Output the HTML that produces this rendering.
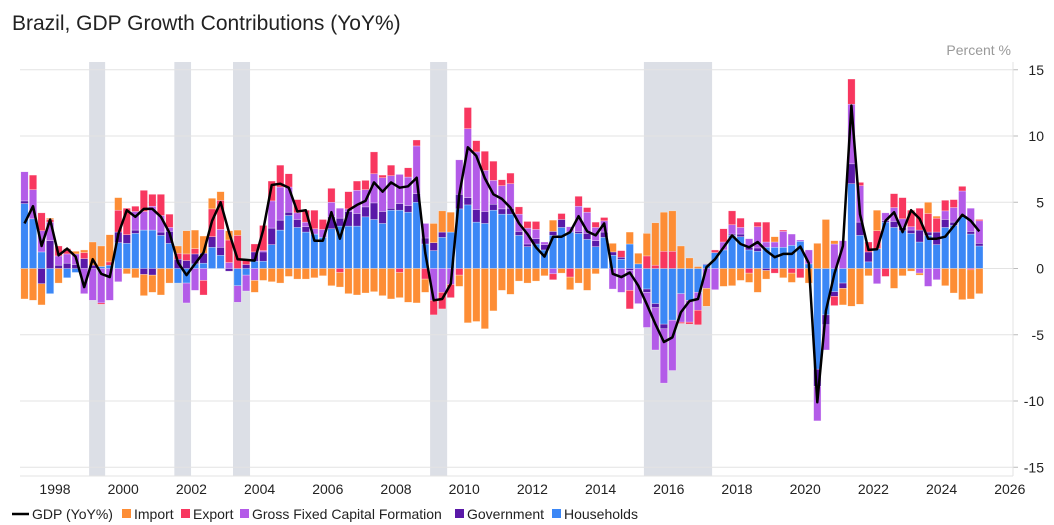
<!DOCTYPE html>
<html><head><meta charset="utf-8"><style>
body{margin:0;background:#fff;font-family:"Liberation Sans",Arial,sans-serif}
svg{display:block}
</style></head><body>
<svg id="chart" width="1054" height="525" viewBox="0 0 1054 525">
<text x="12" y="30" font-size="21" fill="#222">Brazil, GDP Growth Contributions (YoY%)</text>
<text x="1011" y="55" font-size="14" fill="#999" text-anchor="end">Percent %</text>
<g id="shade"></g>
<g id="grid"></g>
<g id="bars"></g>
<g id="line"></g>
<g id="axes"></g>
<g id="legend"></g>
</svg>
<script>
const startYear = 1997;
const households = [4.9,3.75,1.25,-1.9,0,-0.7,-0.3,0,0,0.15,0.25,1.95,1.9,2.65,2.9,2.9,2.5,1.9,-1.1,-1.1,
0.35,0.4,1.6,1.0,0,-1.3,-0.5,0.55,0.55,1.8,2.9,4.0,3.1,2.75,2.6,2.35,3.0,3.2,3.2,3.2,
3.9,3.7,3.4,4.4,4.4,4.25,5.0,1.85,1.35,2.35,2.75,4.5,4.8,3.5,3.4,4.4,4.1,4.1,2.5,1.65,
1.85,1.4,2.5,3.1,2.75,2.65,2.2,1.65,2.35,1.0,0.7,1.85,0.35,-1.55,-2.65,-4.2,-3.9,-1.9,-2.4,-1.8,
0.3,1.2,1.4,2.5,2.4,1.4,1.3,1.6,1.6,1.6,1.75,2.05,0.35,-7.6,-3.5,-1.75,-1.1,6.4,2.5,0.5,
1.5,3.5,3.1,2.85,2.65,2.0,2.5,1.8,3.1,3.25,3.9,2.6,1.7];
const government = [0.2,0,-1.15,2.1,0.25,0.4,0.3,0.75,0.25,0,0,0.8,0.65,0.25,-0.45,-0.5,0.25,0.9,0.7,0.6,
0.75,0.75,0.8,0.6,-0.2,0,0.3,0.7,0.7,1.25,0.75,0.25,0.6,0.4,0,0,0.9,0.6,1.1,0.95,
0.75,1.25,0.9,0.15,0.5,0.5,0.65,0.45,0.6,0.4,0,1.1,0.55,0.95,0.9,0.45,0.4,0.45,0.3,0.2,
0.4,0.4,0.3,0.6,0,0.15,0.45,0.45,0.4,0.25,0.15,-0.15,0,-0.25,-0.3,-0.35,0,0,0,0,
0.05,0,0,0.1,0.2,0.2,0.25,-0.15,0,0,0,0,0,-1.3,-0.75,-0.35,-0.4,1.5,1.0,0.75,
0,0.1,0.45,0.25,0.25,0.9,0.25,0.95,0.6,0.25,0,0.2,0.2];
const gfcf = [2.2,2.2,1.6,1.4,0.7,0.7,0.8,-1.9,-2.4,-2.6,-2.4,-1.0,0,1.4,1.4,1.8,1.25,0.3,0,-1.5,
-1.65,-0.9,0,1.35,0.45,-1.25,-1.2,-0.9,0.1,2.05,2.5,1.9,0.5,0.35,0.4,0.6,1.1,0.75,0.2,1.75,
1.3,2.2,2.55,2.45,2.2,2.15,3.6,1.1,-2.4,-1.8,-1.2,2.6,5.2,4.35,3.1,1.8,1.75,1.85,1.3,1.2,
0.7,0.2,-0.4,0,0.4,1.9,1.6,1.0,0.85,-1.55,-1.8,-1.5,-2.65,-2.65,-3.2,-4.1,-3.8,-2.15,-1.65,-1.35,
-1.5,-1.6,0.6,0.7,0.5,0.65,1.6,0.4,0.4,1.2,0.85,0.1,1.05,-2.6,-1.9,1.85,2.1,4.5,2.75,0,
-1.15,0.6,1.05,0.65,0.25,-0.35,-1.35,-0.85,0.65,1.1,1.95,1.75,1.7];
const exportsC = [0,1.1,1.35,0.2,0.75,0.4,0,0.45,0,-0.1,0.25,1.65,2.0,0.4,1.6,0.9,1.6,1.0,0.45,0.5,
0.4,-1.1,2.1,2.2,1.7,2.5,0.4,0.6,1.9,1.5,1.65,1.0,1.0,0.9,1.4,0.75,1.05,-0.3,1.3,0.7,
0.7,1.65,0.2,0.8,-0.3,0.7,0.45,-0.8,-1.1,-1.25,-1.0,-0.5,1.6,0.85,1.45,1.45,0.45,0.8,0.55,0.5,
0.6,0,-0.45,0.45,-0.65,0.75,0.35,0.4,0.25,0,0.5,-1.4,0,0.95,0.25,1.3,1.3,-0.1,-0.15,-1.1,
0,0.2,1.0,1.05,0.7,-0.35,0.35,1.5,-0.35,0.1,-0.35,-0.7,0,0,0,-0.7,0,1.9,0.25,0.75,
1.35,-0.6,1.05,1.6,1.25,1.65,1.4,1.05,0.8,0.6,0.35,-0.1,0.1];
const imports = [-2.3,-2.4,-1.6,0.1,-1.1,0,0.2,0.2,1.75,1.55,2.05,0.95,-0.4,-0.7,-1.6,-1.3,-2.0,-1.1,0.55,1.75,
1.4,1.3,0.8,0.65,0.7,0.4,0,-0.9,-0.9,-1.0,-1.1,-0.6,-0.8,-0.8,-0.7,-0.55,-1.3,-1.1,-1.9,-2.0,
-1.85,-1.75,-2.05,-2.3,-1.9,-2.55,-2.6,-1.0,1.45,1.6,1.5,-0.85,-4.1,-4.0,-4.55,-3.2,-1.65,-1.95,-0.95,-1.1,
-0.95,-0.55,0.85,-0.35,-0.95,-1.1,-1.65,-0.4,0,0.65,0,0.9,0.8,1.7,3.2,2.95,3.05,1.7,0.8,0.15,
-1.35,0,-1.35,-1.3,-0.9,-0.7,-1.8,-0.65,0.4,-0.7,-0.7,0,-1.1,1.9,3.7,0.25,-1.25,-2.85,-2.7,-0.55,
1.55,0,-1.5,-0.55,-0.2,-0.15,0.85,0.15,-1.3,-1.85,-2.35,-2.2,-1.9];
const gdp = [3.4,4.7,1.7,3.7,1.0,1.5,0.9,-1.4,0.7,-0.4,-0.65,2.6,4.4,3.9,4.5,4.5,3.9,2.7,0.45,-0.5,
0.35,1.2,3.6,5.0,2.7,0.7,0.65,0.6,2.9,6.3,6.4,6.1,4.3,4.4,2.1,2.1,4.25,2.25,4.4,4.8,
5.1,6.5,5.8,6.5,6.1,6.2,6.85,1.2,-2.4,-2.3,-1.15,5.6,9.15,8.5,6.8,5.6,5.25,4.6,3.4,2.6,
1.6,0.9,2.4,2.4,2.75,3.95,2.8,2.5,3.4,-0.4,-0.65,-0.3,-1.3,-2.7,-4.2,-5.55,-5.2,-3.3,-2.45,-2.3,
0.1,0.7,1.6,2.5,1.85,1.6,2.0,1.35,0.85,1.1,1.1,1.65,0.4,-10.1,-3.2,-0.4,1.7,12.3,4.1,1.4,
1.45,3.6,4.25,2.75,4.4,3.75,2.25,2.25,2.4,3.2,4.05,3.6,2.8];
const yTicks = [15,10,5,0,-5,-10,-15];
const xTickYears = [1998,2000,2002,2004,2006,2008,2010,2012,2014,2016,2018,2020,2022,2024,2026];
const shadeStarts = [1999.0,2001.5,2003.22,2009.0,2015.27];
const shadeEnds = [1999.47,2001.99,2003.72,2009.5,2017.27];
const seriesNames = ["Households","Government","Gross Fixed Capital Formation","Export","Import"];
const seriesColors = ["#3b87f6","#5a19a8","#b35be8","#f8375f","#fd8d35"];

const NS="http://www.w3.org/2000/svg";
const plotTop=62, plotBottom=476, plotLeft=20, plotRight=1013;
function xScale(yr){return 55+(yr-1998)*34.1;}
function yScale(v){return 268.5-v*13.25;}
function mk(tag,attrs,parent){const e=document.createElementNS(NS,tag);for(const k in attrs)e.setAttribute(k,attrs[k]);parent.appendChild(e);return e;}

const shadeG=document.getElementById('shade');
for(let i=0;i<shadeStarts.length;i++){
  const r=mk('rect',{x:xScale(shadeStarts[i]),y:plotTop,width:xScale(shadeEnds[i])-xScale(shadeStarts[i]),height:plotBottom-plotTop,fill:'#dcdfe6'},shadeG);
  
  
}
const gridG=document.getElementById('grid');
const axesG=document.getElementById('axes');
yTicks.forEach(t=>{
  const l=mk('line',{x1:plotLeft,x2:plotRight,y1:yScale(t),y2:yScale(t),stroke:'#e3e3e3','stroke-width':1},gridG);
  
  
  mk('line',{x1:plotRight,x2:plotRight+5,y1:yScale(t),y2:yScale(t),stroke:'#bbb','stroke-width':1},axesG);
  const tx=mk('text',{x:1044,y:yScale(t)+5,'font-size':14,fill:'#222','text-anchor':'end'},axesG);
  tx.textContent=String(t);
  
  
});
mk('line',{x1:plotLeft,x2:plotRight,y1:plotBottom,y2:plotBottom,stroke:'#e3e3e3','stroke-width':1},axesG);
mk('line',{x1:plotRight,x2:plotRight,y1:plotTop,y2:plotBottom,stroke:'#e3e3e3','stroke-width':1},axesG);
xTickYears.forEach(yr=>{
  const tx=mk('text',{x:xScale(yr),y:494,'font-size':14,fill:'#222','text-anchor':'middle'},axesG);
  tx.textContent=String(yr);
  
  
});

const barsG=document.getElementById('bars');
const series=[households,government,gfcf,exportsC,imports];
const n=gdp.length;
function barCenter(i){return xScale(startYear+i/4)+3.6;}
for(let i=0;i<n;i++){
  let pos=0,neg=0;
  for(let s=0;s<series.length;s++){
    const v=series[s][i]; if(!v) continue;
    let y0,y1;
    if(v>0){y0=pos;pos+=v;y1=pos;}else{y0=neg;neg+=v;y1=neg;}
    const top=Math.min(yScale(y0),yScale(y1)), h=Math.abs(yScale(y1)-yScale(y0));
    const r=mk('rect',{x:barCenter(i)-3.7,y:top,width:7.4,height:h,fill:seriesColors[s],stroke:'#fff','stroke-width':0.5,'stroke-opacity':0.6},barsG);
    
    
  }
}
const lineG=document.getElementById('line');
let d='';
for(let i=0;i<n;i++){d+=(i?'L':'M')+barCenter(i).toFixed(1)+' '+yScale(gdp[i]).toFixed(1);}
const p=mk('path',{d:d,fill:'none',stroke:'#000','stroke-width':2.5,'stroke-linejoin':'round'},lineG);



const legG=document.getElementById('legend');
const li=mk('line',{x1:12,x2:29,y1:514,y2:514,stroke:'#000','stroke-width':2.5},legG);


const lt=mk('text',{x:32,y:519,'font-size':14,fill:'#222'},legG);
lt.textContent='GDP (YoY%)';


const legItems=[[4,122],[3,181],[2,240],[1,455],[0,552]];
legItems.forEach(([s,x])=>{
  const r=mk('rect',{x:x,y:509,width:9,height:9,fill:seriesColors[s]},legG);
  
  
  const t=mk('text',{x:x+12,y:519,'font-size':14,fill:'#222'},legG);
  t.textContent=seriesNames[s];
  
  
});
</script>
</body></html>
